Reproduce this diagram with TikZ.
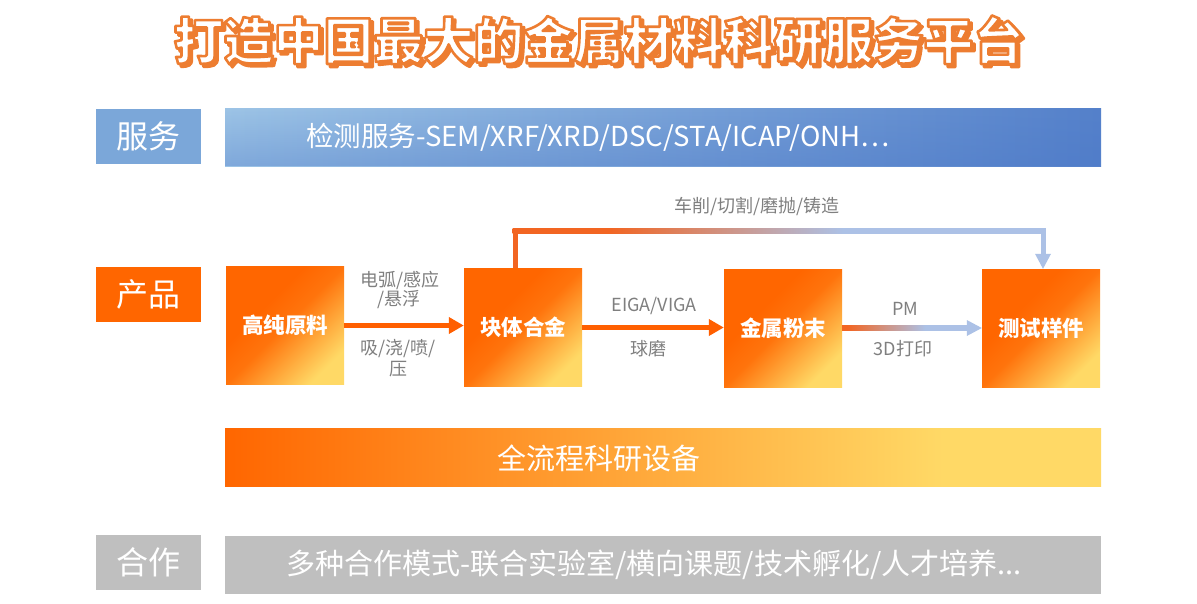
\documentclass[tikz,border=0pt]{standalone}
\usepackage{fontspec}
\setmainfont{Noto Sans CJK SC}
\usetikzlibrary{arrows.meta,calc,fadings}
\definecolor{myorange}{RGB}{255,102,0}
\definecolor{myyellow}{RGB}{255,217,102}
\definecolor{arrorange}{RGB}{255,95,0}
\definecolor{toporange}{RGB}{242,101,34}
\definecolor{lblue}{RGB}{172,193,230}
\definecolor{labblue}{RGB}{123,167,217}
\definecolor{bblue1}{RGB}{157,196,230}
\definecolor{bblue2}{RGB}{72,117,198}
\definecolor{mygray}{RGB}{191,191,191}
\definecolor{txtgray}{RGB}{127,127,127}
\definecolor{titleor}{RGB}{237,125,49}
\pgfdeclareverticalshading{boxshade}{100bp}{color(0bp)=(myyellow); color(25bp)=(myyellow); color(50bp)=(myorange!88!myyellow); color(62bp)=(myorange); color(100bp)=(myorange)}
\pgfdeclarehorizontalshading{barshade}{100bp}{color(0bp)=(myorange); color(25bp)=(myorange); color(66bp)=(myyellow); color(100bp)=(myyellow)}
\pgfdeclarehorizontalshading{topshade}{100bp}{color(0bp)=(toporange); color(34bp)=(toporange); color(56bp)=(lblue); color(100bp)=(lblue)}
\pgfdeclarehorizontalshading{pmshade}{100bp}{color(0bp)=(toporange); color(27bp)=(toporange); color(58bp)=(lblue); color(100bp)=(lblue)}
\newcommand\mytitletext{打造中国最大的金属材料科研服务平台}
\newcommand\strokeon{\special{pdf:literal direct 2 Tr 2.6 w 1 j 0.929 0.490 0.192 RG}}
\newcommand\strokeoff{\special{pdf:literal direct 0 Tr}}
\begin{document}
\begin{tikzpicture}[x=1pt,y=-1pt,
  catbox/.style={minimum width=105pt,minimum height=55pt,inner sep=0pt,text=white,font=\fontsize{32}{36}\selectfont},
  barbox/.style={minimum width=876pt,minimum height=58pt,inner sep=0pt},
  prodbox/.style={minimum width=118pt,minimum height=118pt,inner sep=0pt,shade,shading=boxshade,shading angle=45,text=white,font=\bfseries\fontsize{21.5}{24}\selectfont},
  lab/.style={text=txtgray,font=\fontsize{18}{20}\selectfont,inner sep=0pt},
  bartext/.style={text=white,font=\fontsize{27.5}{30}\selectfont,inner sep=0pt},
  titlestyle/.style={inner sep=0pt,font=\bfseries\fontsize{50}{56}\selectfont},
  conn/.style={line width=5pt,draw=arrorange,-{Triangle[length=15pt,width=16pt]}}
]
\useasboundingbox (0,0) rectangle (1197,603);
\fill[white] (0,0) rectangle (1197,603);

% title: orange drop shadow, then white letters with an orange outline
\coordinate (tc) at (598.5,40);
\node[titlestyle,text=titleor] (tshadow) at ($(tc)+(3,3)$) {\strokeon\mytitletext\strokeoff};
\node[titlestyle,text=white] (title) at (tc) {\strokeon\mytitletext\strokeoff};

% service row
\node[catbox,fill=labblue] (fw) at (148.5,136) {服务};
\node[barbox,shade,left color=bblue1,right color=bblue2!85!bblue1] (fwbar) at (663,137) {};
\fill[bblue2,fill opacity=0.35,path fading=north] (fwbar.north west) rectangle (fwbar.south east);
\node[bartext,anchor=west] (fwtext) at (306,137) {检测服务-SEM/XRF/XRD/DSC/STA/ICAP/ONH…};

% product row
\node[catbox,fill=myorange] (cp) at (148.5,294) {产品};
\node[prodbox] (raw) at (285,325.5) {高纯原料};
\node[prodbox] (bulk) at (523,327.5) {块体合金};
\node[prodbox] (pow) at (783,328) {金属粉末};
\node[prodbox] (test) at (1041,328) {测试样件};

\draw[conn] (raw.east) -- (raw.east -| bulk.west);
\draw[conn] (bulk.east |- 0,327.5) -- (pow.west |- 0,327.5);

% PM / 3D printing gradient arrow
\shade[shading=pmshade] ($(pow.east)+(0,-2.5)$) rectangle ($(test.west)+(-14,2.5)$);
\fill[lblue] (test.west) -- ++(-15,-8) -- ++(0,16) -- cycle;

% top connector
\coordinate (tstart) at ($(bulk.north)+(-8,0)$);
\coordinate (tcorner1) at (515,230.5);
\coordinate (tcorner2) at (1043,230.5);
\coordinate (tend) at (test.north -| tcorner2);
\draw[line width=5pt,toporange] (tstart) -- ($(tcorner1)+(0,-2.5)$);
\shade[shading=topshade] ($(tcorner1)+(-2.5,-2.5)$) rectangle ($(tcorner2)+(2.5,2.5)$);
\draw[line width=5pt,lblue] ($(tcorner2)+(0,-2.5)$) -- ($(tend)+(0,-13)$);
\fill[lblue] (tend) -- ++(-8,-15) -- ++(16,0) -- cycle;

% labels
\node[lab] (l1a) at (400,280) {电弧/感应};
\node[lab] (l1b) at (399,300) {/悬浮};
\node[lab] (l1c) at (398,349) {吸/浇/喷/};
\node[lab] (l1d) at (398,369) {压};
\node[lab] (l2a) at (654,306) {EIGA/VIGA};
\node[lab] (l2b) at (648,349) {球磨};
\node[lab] (l3a) at (905,309) {PM};
\node[lab] (l3b) at (903,349) {3D打印};
\node[lab] (l4) at (757,207) {车削/切割/磨抛/铸造};

% equipment bar
\node[barbox,shade,shading=barshade] (eqbar) at (663,457.5) {};
\node[bartext,font=\fontsize{29}{32}\selectfont] (eqtext) at (598.5,458) {全流程科研设备};

% cooperation row
\node[catbox,fill=mygray] (hz) at (148.5,562.5) {合作};
\node[barbox,fill=mygray] (hzbar) at (663,564.5) {};
\node[bartext,font=\fontsize{29}{32}\selectfont,anchor=west] (hztext) at (286,565) {多种合作模式-联合实验室/横向课题/技术孵化/人才培养...};
\end{tikzpicture}
\end{document}
